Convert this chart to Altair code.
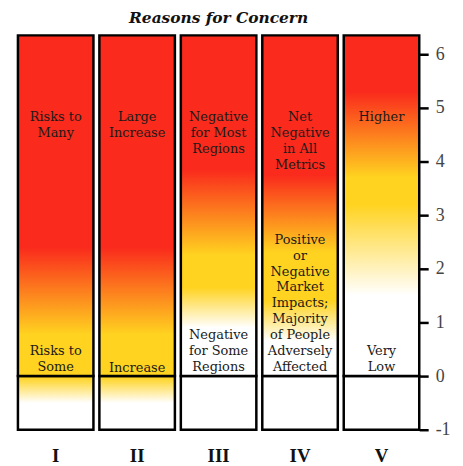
import altair as alt
import pandas as pd

# ---- data -------------------------------------------------------------
concerns = ["I", "II", "III", "IV", "V"]
bar_bottom = -1.0
bar_split = 0.0
bar_top = 6.35
y_ticks = [-1, 0, 1, 2, 3, 4, 5, 6]

RED = "#fa2a1c"
YELLOW = "#ffd320"
WHITE = "#ffffff"

# colour stops (temperature, colour) above 0
upper_temps = {
    "I":   [0.0, 0.77, 2.4],
    "II":  [0.0, 0.77, 2.4],
    "III": [0.0, 0.9, 1.65, 2.25, 3.85],
    "IV":  [0.0, 0.65, 1.4, 2.3, 3.75],
    "V":   [0.0, 1.5, 3.2, 3.7, 5.3],
}
upper_colors = {
    "I":   [YELLOW, YELLOW, RED],
    "II":  [YELLOW, YELLOW, RED],
    "III": [WHITE, WHITE, YELLOW, YELLOW, RED],
    "IV":  [WHITE, WHITE, YELLOW, YELLOW, RED],
    "V":   [WHITE, WHITE, YELLOW, YELLOW, RED],
}
# colour stops below 0
lower_temps = {
    "I":   [-1.0, -0.5, -0.02],
    "II":  [-1.0, -0.5, -0.02],
    "III": [-1.0],
    "IV":  [-1.0],
    "V":   [-1.0],
}
lower_colors = {
    "I":   [WHITE, WHITE, YELLOW],
    "II":  [WHITE, WHITE, YELLOW],
    "III": [WHITE],
    "IV":  [WHITE],
    "V":   [WHITE],
}

top_labels = [
    "Risks to\nMany",
    "Large\nIncrease",
    "Negative\nfor Most\nRegions",
    "Net\nNegative\nin All\nMetrics",
    "Higher",
]
bottom_labels = [
    "Risks to\nSome",
    "Increase",
    "Negative\nfor Some\nRegions",
    "Positive\nor\nNegative\nMarket\nImpacts;\nMajority\nof People\nAdversely\nAffected",
    "Very\nLow",
]
# temperature at which each label block starts (its first line)
top_label_at = [4.94, 4.94, 4.94, 4.94, 4.94]
bottom_label_at = [0.58, 0.27, 0.88, 2.65, 0.58]

# ---- chart ------------------------------------------------------------
df = pd.DataFrame({
    "concern": concerns,
    "low": [bar_bottom] * 5,
    "mid": [bar_split] * 5,
    "top": [bar_top] * 5,
    "top_label": top_labels,
    "bottom_label": bottom_labels,
    "top_at": top_label_at,
    "bottom_at": bottom_label_at,
})


def gradient(temps, colors, lo, hi):
    stops = [alt.GradientStop(offset=(t - lo) / (hi - lo), color=c)
             for t, c in zip(temps, colors)]
    return alt.LinearGradient(gradient="linear", stops=stops,
                              x1=0, x2=0, y1=1, y2=0)


x_enc = alt.X(
    "concern:N", sort=concerns,
    scale=alt.Scale(paddingInner=0.073, paddingOuter=0),
    axis=alt.Axis(title=None, domain=False, ticks=False, labelAngle=0,
                  labelFont="Liberation Serif", labelFontSize=19,
                  labelFontWeight="bold", labelColor="#111",
                  labelPadding=17),
)
y_scale = alt.Scale(domain=[bar_bottom, bar_top], nice=False, zero=False)
y_axis = alt.Axis(title=None, orient="right", values=y_ticks,
                  labelExpr="'' + datum.value",
                  grid=False, domain=False, tickColor="black", tickWidth=2.5,
                  tickSize=9, labelFont="Liberation Serif", labelFontSize=18,
                  labelColor="#444", labelPadding=7)

base = alt.Chart(df)
layers = []
for c in concerns:
    sub = base.transform_filter(alt.datum.concern == c)
    layers.append(
        sub.mark_rect(fill=gradient(lower_temps[c], lower_colors[c], bar_bottom, bar_split),
                      stroke="black", strokeWidth=2.5)
        .encode(x=x_enc, y=alt.Y("low:Q", scale=y_scale, axis=y_axis), y2="mid:Q")
    )
    layers.append(
        sub.mark_rect(fill=gradient(upper_temps[c], upper_colors[c], bar_split, bar_top),
                      stroke="black", strokeWidth=2.5)
        .encode(x=x_enc, y=alt.Y("mid:Q", scale=y_scale, axis=y_axis), y2="top:Q")
    )

text_style = dict(font="DejaVu Serif", fontSize=13, lineBreak="\n",
                  lineHeight=16, baseline="top", color="#1a1a1a")
text_top = base.mark_text(**text_style).encode(
    x=x_enc, y=alt.Y("top_at:Q", scale=y_scale, axis=y_axis), text="top_label:N")
text_bottom = base.mark_text(**text_style).encode(
    x=x_enc, y=alt.Y("bottom_at:Q", scale=y_scale, axis=y_axis), text="bottom_label:N")

chart = alt.layer(*layers, text_top, text_bottom).properties(
    width=404, height=397,
    title=alt.TitleParams("Reasons for Concern", font="DejaVu Serif", fontSize=15.5,
                          fontWeight="bold", fontStyle="italic", offset=8,
                          anchor="middle", color="#111"),
    padding={"top": 1, "left": 8, "right": 5, "bottom": 5},
).configure_view(strokeWidth=0)

chart.save("out.html", embed_options={"renderer": "svg", "actions": False})
